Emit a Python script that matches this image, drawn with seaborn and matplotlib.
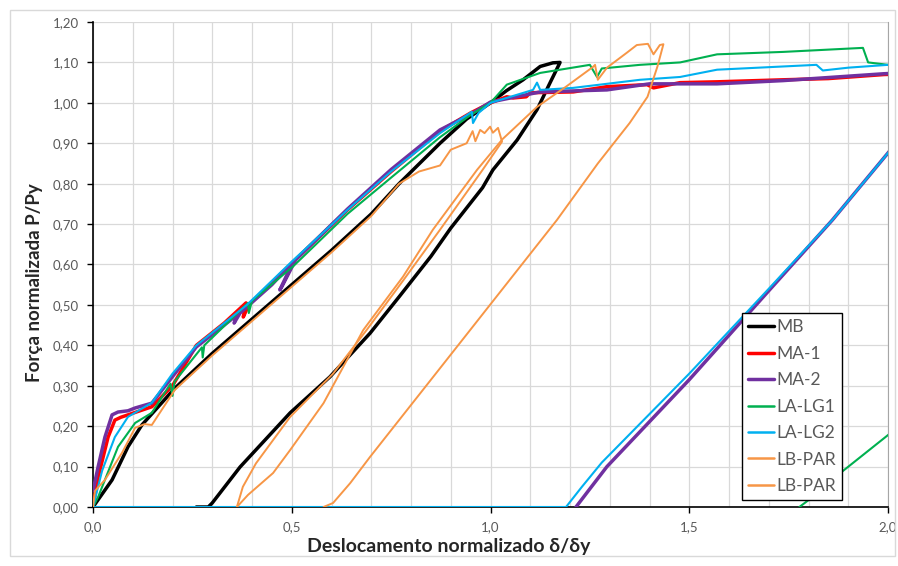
import matplotlib
matplotlib.use('Agg')
import matplotlib.pyplot as plt
import seaborn as sns
from matplotlib.ticker import MultipleLocator, FuncFormatter
from matplotlib.patches import Rectangle

# curves (x = delta/delta_y, y = P/Py)

# MB - black
mb_x = [0, 0.048, 0.088, 0.123, 0.206, 0.30, 0.40, 0.50, 0.60, 0.70, 0.77, 0.873, 0.94, 1.0, 1.04,
        1.082, 1.125, 1.157, 1.175, 1.15, 1.117, 1.067, 1.006, 0.98, 0.90, 0.85, 0.77, 0.697, 0.596,
        0.496, 0.37, 0.30, 0.29, 0.26]
mb_y = [0, 0.067, 0.149, 0.203, 0.294, 0.38, 0.465, 0.55, 0.635, 0.725, 0.80, 0.90, 0.96, 1.0, 1.03,
        1.057, 1.09, 1.099, 1.10, 1.05, 0.983, 0.908, 0.834, 0.79, 0.69, 0.62, 0.52, 0.43, 0.322,
        0.233, 0.099, 0.01, 0.0, 0.0]

# MA-1 - red
ma1_x = [0, 0.013, 0.038, 0.055, 0.07, 0.088, 0.148, 0.20, 0.26, 0.33, 0.385, 0.378, 0.392, 0.503,
         0.64, 0.75, 0.873, 0.95, 1.0, 1.041, 1.057, 1.09, 1.10, 1.208, 1.293, 1.394, 1.41, 1.477,
         1.57, 1.736, 1.85, 1.99, 2.05]
ma1_y = [0, 0.074, 0.173, 0.215, 0.222, 0.228, 0.248, 0.30, 0.40, 0.455, 0.505, 0.47, 0.50, 0.606,
         0.735, 0.83, 0.93, 0.975, 1.0, 1.015, 1.012, 1.015, 1.025, 1.027, 1.04, 1.045, 1.037, 1.05,
         1.052, 1.057, 1.06, 1.07, 1.072]

# MA-2 - purple
ma2_x = [0, 0.013, 0.03, 0.048, 0.063, 0.088, 0.106, 0.148, 0.206, 0.26, 0.33, 0.362, 0.355, 0.37,
         0.45, 0.503, 0.47, 0.475, 0.51, 0.64, 0.75, 0.873, 0.956, 1.0, 1.125, 1.293, 1.40, 1.57,
         1.736, 1.99, 2.1, 2.1, 2.0, 1.86, 1.7, 1.5, 1.293, 1.25, 1.215]
ma2_y = [0.04, 0.10, 0.173, 0.228, 0.235, 0.238, 0.245, 0.257, 0.33, 0.396, 0.45, 0.475, 0.455,
         0.48, 0.55, 0.606, 0.537, 0.545, 0.612, 0.737, 0.835, 0.933, 0.975, 1.002, 1.027, 1.032,
         1.047, 1.047, 1.055, 1.072, 1.077, 0.994, 0.876, 0.71, 0.535, 0.315, 0.10, 0.045, 0.0]

# LA-LG1 - green
lg1_x = [0, 0.013, 0.063, 0.106, 0.148, 0.195, 0.20, 0.205, 0.274, 0.276, 0.28, 0.39, 0.392, 0.40,
         0.503, 0.64, 0.75, 0.873, 0.95, 1.0, 1.041, 1.125, 1.25, 1.268, 1.28, 1.376, 1.477, 1.57,
         1.736, 1.937, 1.95, 2.0, 2.1, 2.1, 2.0, 1.88, 1.80, 1.777]
lg1_y = [0, 0.025, 0.149, 0.208, 0.233, 0.305, 0.275, 0.31, 0.395, 0.37, 0.40, 0.505, 0.48, 0.51,
         0.595, 0.725, 0.815, 0.915, 0.97, 1.0, 1.045, 1.074, 1.094, 1.064, 1.085, 1.094, 1.10, 1.12,
         1.126, 1.136, 1.10, 1.094, 1.093, 0.258, 0.178, 0.084, 0.017, 0.0]

# LA-LG2 - cyan
lg2_x = [0, 0.023, 0.055, 0.088, 0.148, 0.20, 0.26, 0.387, 0.503, 0.64, 0.75, 0.873, 0.953, 0.956,
         0.97, 1.0, 1.107, 1.117, 1.125, 1.208, 1.376, 1.477, 1.57, 1.82, 1.836, 1.90, 2.0, 2.1, 2.1,
         2.0, 1.86, 1.7, 1.5, 1.28, 1.23, 1.19, 0.0]
lg2_y = [0, 0.09, 0.173, 0.223, 0.258, 0.33, 0.40, 0.50, 0.61, 0.735, 0.83, 0.925, 0.978, 0.95,
         0.975, 1.0, 1.032, 1.05, 1.032, 1.037, 1.057, 1.064, 1.082, 1.094, 1.08, 1.087, 1.094, 1.097,
         0.994, 0.876, 0.71, 0.54, 0.33, 0.11, 0.05, 0.0, 0.0]

# LB-PAR - orange, first loading + unloading
lbp1_x = [0, 0.005, 0.03, 0.073, 0.106, 0.13, 0.148, 0.206, 0.30, 0.40, 0.50, 0.60, 0.70, 0.77,
          0.82, 0.873, 0.90, 0.94, 0.955, 0.962, 0.974, 0.985, 0.999, 1.006, 1.019, 1.029, 0.98,
          0.873, 0.78, 0.69, 0.604, 0.496, 0.41, 0.377, 0.362]
lbp1_y = [0.0, 0.04, 0.067, 0.134, 0.196, 0.205, 0.203, 0.29, 0.375, 0.46, 0.545, 0.63, 0.72, 0.80,
          0.83, 0.845, 0.884, 0.90, 0.93, 0.905, 0.933, 0.925, 0.941, 0.926, 0.938, 0.904, 0.834,
          0.686, 0.56, 0.44, 0.33, 0.223, 0.108, 0.05, 0.0]

# LB-PAR - orange, reloading + final unloading
lbp2_x = [0.362, 0.39, 0.453, 0.496, 0.58, 0.68, 0.78, 0.855, 0.966, 1.03, 1.117, 1.19, 1.258,
          1.263, 1.27, 1.293, 1.343, 1.368, 1.396, 1.41, 1.426, 1.435, 1.42, 1.395, 1.35, 1.27,
          1.167, 1.074, 0.90, 0.697, 0.647, 0.604, 0.58]
lbp2_y = [0.0, 0.03, 0.084, 0.141, 0.257, 0.438, 0.57, 0.686, 0.834, 0.91, 0.99, 1.04, 1.089,
          1.094, 1.057, 1.087, 1.124, 1.143, 1.146, 1.12, 1.143, 1.145, 1.09, 1.015, 0.95, 0.85,
          0.71, 0.594, 0.377, 0.124, 0.059, 0.01, 0.0]

series = [
    ('MB', mb_x, mb_y, '#000000', 2.5),
    ('MA-1', ma1_x, ma1_y, '#ff0000', 2.5),
    ('MA-2', ma2_x, ma2_y, '#7030a0', 2.5),
    ('LA-LG1', lg1_x, lg1_y, '#00b050', 1.5),
    ('LA-LG2', lg2_x, lg2_y, '#00b0f0', 1.5),
    ('LB-PAR', lbp1_x, lbp1_y, '#f79646', 1.4),
    ('LB-PAR', lbp2_x, lbp2_y, '#f79646', 1.4),
]

sns.set_style('white')
plt.rcParams['font.family'] = ['Lato', 'DejaVu Sans']

fig = plt.figure(figsize=(8.98, 5.66), dpi=100)
ax = fig.add_axes([93 / 898, 1 - 507 / 566, 795 / 898, 485 / 566])

for name, xs, ys, col, lw in series:
    sns.lineplot(x=xs, y=ys, sort=False, estimator=None, color=col, lw=lw, label=name, ax=ax,
                 zorder=3)

ax.set_xlim(0, 2.0)
ax.set_ylim(0, 1.2)
ax.xaxis.set_major_locator(MultipleLocator(0.5))
ax.xaxis.set_minor_locator(MultipleLocator(0.1))
ax.yaxis.set_major_locator(MultipleLocator(0.1))
ax.xaxis.set_major_formatter(FuncFormatter(lambda v, p: f'{v:.1f}'.replace('.', ',')))
ax.yaxis.set_major_formatter(FuncFormatter(lambda v, p: f'{v:.2f}'.replace('.', ',')))
ax.grid(which='both', color='#d9d9d9', lw=0.9)
ax.set_axisbelow(True)
ax.tick_params(axis='both', which='major', direction='out', length=4, width=1, color='black',
               labelsize=9.5, labelcolor='#595959', left=True, bottom=True, pad=6)
ax.tick_params(axis='x', which='minor', length=0)

for s in ['left', 'bottom']:
    ax.spines[s].set_color('black')
    ax.spines[s].set_linewidth(1.2)
ax.spines['top'].set_visible(False)
ax.spines['right'].set_color('#a6a6a6')

ax.set_xlabel('Deslocamento normalizado δ/δy', fontsize=14, fontweight='bold')
ax.set_ylabel('Força normalizada P/Py', fontsize=13.5, fontweight='bold')
ax.xaxis.set_label_coords(0.447, -0.064)
ax.yaxis.set_label_coords(-0.063, 0.462)

leg = ax.legend(loc='lower right', bbox_to_anchor=(0.942, 0.0144), fontsize=12.5, frameon=True,
                fancybox=False, edgecolor='black', framealpha=1, labelspacing=0.6,
                handlelength=1.45, handletextpad=0.15, borderpad=0.35, borderaxespad=0,
                labelcolor='#595959')
leg.get_frame().set_linewidth(1.0)
for h in leg.get_lines():
    h.set_linewidth(2.5 if h.get_color() in ('#000000', '#ff0000', '#7030a0') else 1.8)

fig.patches.append(Rectangle((10 / 898, 1 - 556 / 566), 885 / 898, 546 / 566, transform=fig.transFigure,
                             fill=False, edgecolor='#d9d9d9', lw=1))

fig.savefig('out.png', dpi=100)
